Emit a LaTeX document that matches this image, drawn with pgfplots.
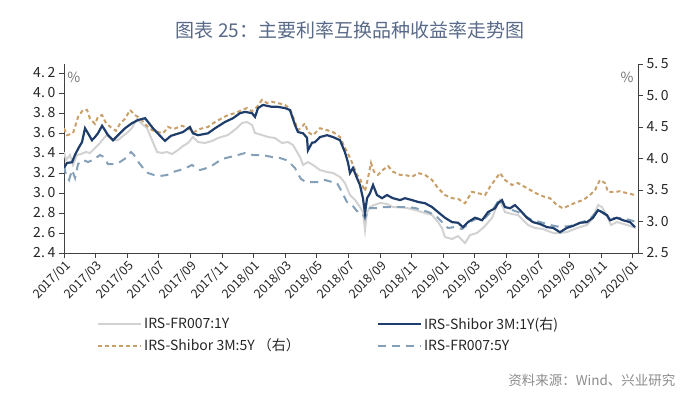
\documentclass[border=0pt]{standalone}
\usepackage{pgfplots}
\pgfplotsset{compat=1.18}
\usepackage{pgfplotstable}
\usepackage{fontspec}
\setmainfont{Noto Sans CJK SC}
\definecolor{cGray}{RGB}{210,210,210}
\definecolor{cNavy}{RGB}{30,61,107}
\definecolor{cTan}{RGB}{201,160,105}
\definecolor{cSteel}{RGB}{132,160,184}
\definecolor{cTitle}{RGB}{88,106,136}
\definecolor{cAxis}{RGB}{64,64,64}

% IRS-FR007:1Y (left axis)
\pgfplotstableread{
m v
0 3.41
0.13 3.33
0.38 3.38
0.57 3.28
0.82 3.38
1.08 3.39
1.39 3.41
1.65 3.40
1.96 3.45
2.28 3.50
2.53 3.55
2.78 3.59
3.10 3.53
3.42 3.53
3.73 3.57
4.05 3.61
4.30 3.65
4.62 3.74
4.94 3.69
5.25 3.65
5.57 3.53
5.89 3.41
6.20 3.40
6.52 3.41
6.84 3.39
7.22 3.43
7.53 3.47
7.85 3.50
8.16 3.56
8.48 3.51
8.92 3.50
9.37 3.52
9.75 3.55
10.38 3.58
10.95 3.65
11.27 3.70
11.58 3.71
11.90 3.68
12.09 3.60
12.53 3.58
12.91 3.56
13.35 3.55
13.80 3.50
14.18 3.51
14.49 3.48
14.75 3.41
14.94 3.36
15.13 3.28
15.44 3.31
15.76 3.28
16.20 3.23
16.65 3.21
17.03 3.20
17.47 3.16
17.78 3.10
18.10 2.98
18.42 2.93
18.73 2.86
18.92 2.81
19.05 2.63
19.18 2.81
19.37 2.86
19.62 2.88
20.00 2.90
20.44 2.89
20.82 2.86
21.27 2.86
21.71 2.85
22.22 2.83
22.85 2.80
23.29 2.78
23.67 2.71
23.92 2.65
24.11 2.56
24.56 2.54
24.94 2.57
25.38 2.50
25.70 2.58
26.14 2.60
26.58 2.66
27.09 2.75
27.41 2.88
27.59 2.93
27.91 2.81
28.35 2.79
28.73 2.78
29.05 2.73
29.37 2.68
29.81 2.65
30.32 2.64
30.95 2.60
31.39 2.60
31.84 2.61
32.47 2.65
33.10 2.68
33.48 2.75
33.80 2.88
34.05 2.86
34.37 2.77
34.62 2.68
35.00 2.71
35.63 2.68
36.20 2.65
}\tGray

% IRS-FR007:5Y (left axis)
\pgfplotstableread{
m v
0 3.27
0.13 3.18
0.32 3.13
0.51 3.23
0.70 3.15
0.89 3.29
1.20 3.33
1.52 3.31
1.84 3.33
2.28 3.38
2.53 3.36
2.78 3.29
3.16 3.29
3.54 3.31
3.92 3.35
4.24 3.41
4.43 3.38
4.75 3.30
5.06 3.24
5.32 3.20
5.70 3.18
6.08 3.17
6.52 3.18
6.90 3.21
7.34 3.23
7.72 3.25
8.10 3.28
8.61 3.23
9.05 3.25
9.43 3.28
10.00 3.34
10.51 3.36
11.01 3.38
11.46 3.40
11.96 3.38
12.53 3.38
13.16 3.36
13.67 3.35
14.05 3.33
14.37 3.29
14.62 3.25
14.81 3.19
15.00 3.14
15.32 3.11
15.70 3.11
16.08 3.11
16.52 3.13
16.96 3.11
17.28 3.10
17.59 3.01
17.91 2.91
18.23 2.88
18.54 2.82
18.86 2.80
19.05 2.75
19.37 2.85
19.81 2.85
20.19 2.86
20.76 2.86
21.27 2.86
21.71 2.86
22.22 2.85
22.66 2.83
23.04 2.81
23.48 2.78
23.92 2.71
24.30 2.65
24.75 2.66
25.19 2.64
25.51 2.68
25.82 2.72
26.20 2.75
26.65 2.75
27.09 2.82
27.41 2.90
27.59 2.94
27.91 2.86
28.35 2.83
28.73 2.81
29.18 2.77
29.62 2.73
30.13 2.71
30.76 2.68
31.39 2.66
32.03 2.67
32.66 2.70
33.29 2.74
33.80 2.83
34.11 2.80
34.56 2.75
35.19 2.75
35.82 2.73
36.20 2.71
}\tSteel

% IRS-Shibor 3M:5Y (right axis)
\pgfplotstableread{
m v
0 4.48
0.19 4.37
0.57 4.40
0.89 4.66
1.20 4.77
1.46 4.77
1.65 4.63
1.96 4.55
2.15 4.66
2.41 4.69
2.66 4.56
3.04 4.48
3.29 4.44
3.54 4.55
3.86 4.63
4.18 4.77
4.49 4.69
4.81 4.64
5.19 4.53
5.57 4.45
5.95 4.42
6.27 4.40
6.58 4.50
6.96 4.47
7.47 4.52
7.85 4.48
8.23 4.42
8.61 4.47
9.11 4.50
9.56 4.58
10.00 4.64
10.38 4.69
10.82 4.72
11.27 4.77
11.58 4.80
11.90 4.75
12.22 4.82
12.53 4.93
12.85 4.88
13.16 4.90
13.54 4.88
13.99 4.85
14.30 4.79
14.62 4.58
14.81 4.45
15.06 4.50
15.25 4.56
15.44 4.42
15.76 4.37
16.20 4.48
16.65 4.45
17.03 4.42
17.47 4.34
17.78 4.17
18.10 4.01
18.29 3.90
18.54 3.74
18.73 3.69
18.92 3.55
19.05 3.48
19.24 3.69
19.43 3.93
19.62 3.79
19.87 3.74
20.19 3.82
20.51 3.88
20.82 3.79
21.27 3.74
21.58 3.74
22.03 3.71
22.41 3.77
22.85 3.74
23.29 3.66
23.67 3.53
24.11 3.42
24.56 3.37
24.94 3.36
25.38 3.29
25.82 3.47
26.20 3.45
26.65 3.42
26.96 3.55
27.28 3.66
27.59 3.77
27.91 3.66
28.35 3.58
28.73 3.61
29.30 3.53
29.94 3.44
30.32 3.40
30.76 3.37
31.20 3.26
31.58 3.21
32.03 3.26
32.47 3.31
32.85 3.34
33.29 3.42
33.61 3.50
33.92 3.66
34.24 3.61
34.43 3.47
34.81 3.47
35.19 3.48
35.63 3.45
36.14 3.42
}\tTan

% IRS-Shibor 3M:1Y (right axis)
\pgfplotstableread{
m v
0 3.85
0.19 3.93
0.51 3.94
0.70 4.06
0.95 4.18
1.14 4.26
1.33 4.48
1.52 4.40
1.77 4.29
1.96 4.34
2.15 4.40
2.41 4.52
2.59 4.45
2.78 4.37
3.10 4.29
3.42 4.37
3.86 4.48
4.30 4.56
4.68 4.61
5.13 4.64
5.32 4.58
5.63 4.48
6.08 4.36
6.39 4.28
6.77 4.36
7.15 4.39
7.53 4.42
7.97 4.50
8.16 4.40
8.48 4.37
9.11 4.40
9.56 4.48
10.19 4.58
10.70 4.64
11.14 4.72
11.46 4.74
11.90 4.72
12.09 4.66
12.28 4.80
12.59 4.85
13.16 4.82
13.54 4.82
13.99 4.80
14.30 4.77
14.62 4.53
14.81 4.42
15.13 4.40
15.38 4.33
15.44 4.13
15.70 4.25
15.89 4.26
16.20 4.34
16.65 4.37
17.03 4.34
17.47 4.29
17.78 4.10
17.97 3.94
18.10 3.77
18.29 3.85
18.54 3.69
18.73 3.58
18.92 3.37
19.05 3.13
19.18 3.37
19.37 3.45
19.56 3.58
19.81 3.42
20.13 3.37
20.44 3.42
20.82 3.37
21.27 3.34
21.58 3.37
22.03 3.34
22.41 3.31
22.85 3.29
23.29 3.23
23.67 3.15
24.11 3.06
24.56 2.99
24.94 2.98
25.25 2.91
25.57 2.99
26.01 3.06
26.46 3.02
26.84 3.15
27.28 3.21
27.47 3.29
27.72 3.34
27.91 3.23
28.23 3.21
28.54 3.26
28.86 3.18
29.30 3.06
29.68 2.99
30.13 2.96
30.57 2.91
30.95 2.90
31.39 2.83
31.84 2.90
32.22 2.93
32.66 2.98
33.10 2.99
33.48 3.06
33.80 3.18
34.05 3.15
34.37 3.10
34.56 3.02
34.99 3.06
35.38 3.02
35.82 2.99
36.14 2.91
}\tNavy

\pgfplotsset{
  common/.style={
    at={(64pt,144pt)}, anchor=south west,
    scale only axis, width=574pt, height=189pt,
    xmin=0, xmax=36.33,
    axis line style={-, draw=cAxis, line width=0.8pt},
    tick style={draw=cAxis, line width=0.8pt},
    tick align=outside, major tick length=5pt,
    ticklabel style={font=\fontsize{14}{16}\selectfont, text=black!85},
    /pgf/number format/assume math mode=true,
    yticklabel style={/pgf/number format/.cd, fixed, fixed zerofill, precision=1, dec sep={.\kern0.2em}},
  }
}

\begin{document}
\begin{tikzpicture}
\useasboundingbox (0,0) rectangle (700pt,397pt);
\node[text=cTitle, font=\fontsize{19}{22}\selectfont] at (350pt,367pt) {图表 25：主要利率互换品种收益率走势图};
\node[anchor=east, text=black!45, font=\fontsize{13.5}{16}\selectfont] at (679pt,17pt) {资料来源：Wind、兴业研究};

\begin{axis}[common,
  ymin=2.4, ymax=4.29,
  ytick={2.4,2.6,2.8,3.0,3.2,3.4,3.6,3.8,4.0,4.2},
  axis y line*=left, axis x line*=bottom,
  xtick={0,2,4,6,8,10,12,14,16,18,20,22,24,26,28,30,32,34,36},
  xticklabels={2017/01,2017/03,2017/05,2017/07,2017/09,2017/11,2018/01,2018/03,2018/05,2018/07,2018/09,2018/11,2019/01,2019/03,2019/05,2019/07,2019/09,2019/11,2020/01},
  xticklabel style={rotate=45, anchor=north east, inner sep=1pt, font=\fontsize{12.5}{14}\selectfont},
  legend columns=2,
  legend cell align=left,
  legend image code/.code={\draw[#1] (0pt,0pt) -- (43pt,0pt);},
  legend style={at={(axis description cs:0.0575,-0.33)}, anchor=north west,
    draw=none, fill=none, font=\fontsize{14}{16}\selectfont, text=black!85,
    row sep=4pt, inner sep=0pt,
    /tikz/every even column/.append style={column sep=75pt}},
]
\addplot[cGray, line width=2pt] table[x=m,y=v] {\tGray};
\addlegendentry{IRS-FR007:1Y}
\addlegendimage{cNavy, line width=2.2pt}
\addlegendentry{IRS-Shibor 3M:1Y(右)}
\addlegendimage{cTan, line width=2pt, dash pattern=on 4pt off 3pt}
\addlegendentry{IRS-Shibor 3M:5Y （右）}
\addplot[cSteel, line width=2pt, dash pattern=on 8pt off 6pt] table[x=m,y=v] {\tSteel};
\addlegendentry{IRS-FR007:5Y}
\node[text=black!55, font=\fontsize{14}{16}\selectfont] at (axis description cs:0.017,0.931) {\%};
\end{axis}

\begin{axis}[common,
  ymin=2.5, ymax=5.5,
  ytick={2.5,3.0,3.5,4.0,4.5,5.0,5.5},
  axis y line*=right, axis x line=none,
]
\addplot[cTan, line width=2pt, dash pattern=on 4pt off 3pt] table[x=m,y=v] {\tTan};
\addplot[cNavy, line width=2.2pt] table[x=m,y=v] {\tNavy};
\node[text=black!55, font=\fontsize{14}{16}\selectfont] at (axis description cs:0.981,0.931) {\%};
\end{axis}
\end{tikzpicture}
\end{document}
